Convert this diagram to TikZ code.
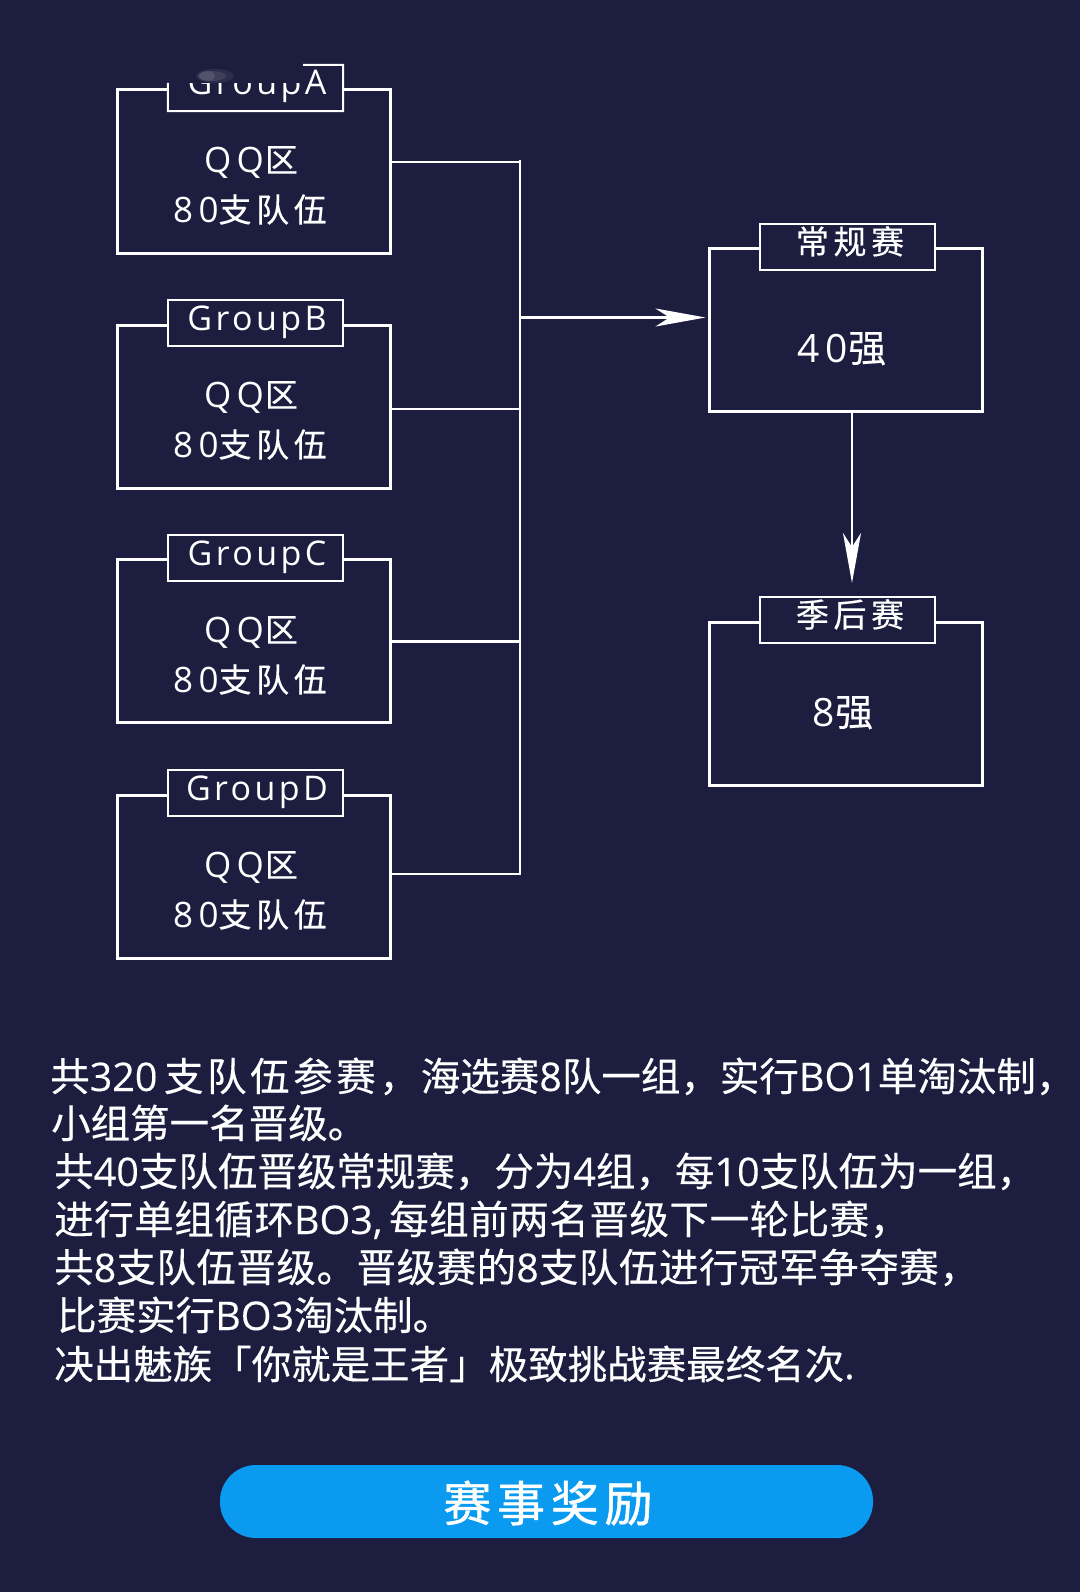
\documentclass[tikz,border=0pt]{standalone}
\usepackage{fontspec}
\usetikzlibrary{arrows.meta,calc}
\setmainfont[FakeBold=0.35]{Noto Sans CJK SC}
\newfontfamily\cnbox[LetterSpace=8,FakeBold=0.3]{Noto Sans CJK SC}
\newfontfamily\cnb[LetterSpace=14,FakeBold=0.3]{Noto Sans CJK SC}
\newfontfamily\cnwide[LetterSpace=9,FakeBold=0.35]{Noto Sans CJK SC}
\newfontfamily\cnfit[LetterSpace=1.4,FakeBold=0.35]{Noto Sans CJK SC}
\newfontfamily\cnbtn[LetterSpace=12,FakeBold=1]{Noto Sans CJK SC}
\newfontfamily\latbox[LetterSpace=15]{Open Sans}
\newfontfamily\lat[FakeBold=0.2]{Open Sans}
\definecolor{bgc}{HTML}{1C1D3F}
\definecolor{btnc}{HTML}{0A9BF0}
\newcommand{\numsize}{\fontsize{35}{35}\selectfont}
\newcommand{\bignum}{\fontsize{39}{39}\selectfont}
\newcommand{\bigcn}{\fontsize{38}{38}\selectfont}
\tikzset{
  x=1pt,y=-1pt,
  framebox/.style={draw=white,line width=3pt,fill=none,minimum width=273pt,minimum height=163pt,inner sep=0pt},
  tabbox/.style={draw=white,line width=2pt,fill=bgc,minimum width=175pt,minimum height=46pt,inner sep=0pt},
  wire/.style={draw=white,line width=2.8pt},
  tip/.style={wire,-{Stealth[length=50pt,width=18pt,inset=14pt]}},
  boxtext/.style={text=white,font=\fontsize{33}{33}\selectfont,anchor=base,inner sep=0pt},
  tabtext/.style={text=white,font=\fontsize{34}{34}\selectfont,anchor=base,inner sep=0pt},
  para/.style={text=white,font=\fontsize{39.5}{40}\selectfont,anchor=base west,inner sep=0pt},
}
\newcommand{\grp}[1]{{\fontspec[LetterSpace=10]{Open Sans}#1}}
\begin{document}
\begin{tikzpicture}
\useasboundingbox[fill=bgc] (0,0) rectangle (1080,1592);
% left frames
\node[framebox] (boxA) at (253.5,171.5) {};
\node[framebox] (boxB) at (253.5,406.5) {};
\node[framebox] (boxC) at (253.5,641) {};
\node[framebox] (boxD) at (253.5,876.5) {};
% group A tab, its top cut away
\node[minimum width=175pt,minimum height=46pt,fill=bgc,inner sep=0pt] (tabA) at (255.5,88) {};
\node[tabtext] (tA) at (257,95) {\grp{GroupA}};
\fill[bgc] (160,55) rectangle (303,83);
\fill[white,opacity=.07] (215,76) ellipse (19 and 7);
\fill[white,opacity=.09] (212,76) ellipse (14 and 5);
\fill[white,opacity=.1] (207,76) ellipse (8 and 5);
\draw[white,line width=2pt] (tabA.west |- 0,83) -- (tabA.south west) -- (tabA.south east) -- (tabA.north east) -- (303,65);
% other tabs
\node[tabbox] (tabB) at (255.5,323) {};
\node[tabbox] (tabC) at (255.5,558) {};
\node[tabbox] (tabD) at (255.5,793) {};
\node[tabtext] (tB) at (257,330) {\grp{GroupB}};
\node[tabtext] (tC) at (257,565) {\grp{GroupC}};
\node[tabtext] (tD) at (257,800) {\grp{GroupD}};
% left texts
\foreach \n/\y in {A/172,B/407,C/642,D/877}{
  \node[boxtext] (q\n) at (251,\y) {{\numsize\latbox QQ}\hspace{1pt}{\cnbox 区}};
  \pgfmathsetmacro{\yy}{\y+50}
  \node[boxtext] (s\n) at (250,\yy) {{\numsize\latbox 80}{\cnb 支队伍}};
}
% right frames
\node[framebox] (boxR) at (845.5,329.5) {};
\node[tabbox] (tabR) at (847,246.5) {};
\node[tabtext] (tR) at (850,254) {\fontsize{33}{33}\selectfont\cnb 常规赛};
\node[boxtext] (nR) at (842,362) {{\bignum\latbox 40}{\bigcn\cnbox 强}};
\node[framebox] (boxP) at (845.5,703.5) {};
\node[tabbox] (tabP) at (847,620) {};
\node[tabtext] (tP) at (850,627) {\fontsize{33}{33}\selectfont\cnb 季后赛};
\node[boxtext] (nP) at (843,726) {{\bignum\latbox 8}{\bigcn\cnbox 强}};
% connectors
\coordinate (busA) at (520,162);
\coordinate (busM) at (520,317.5);
\coordinate (busB) at (520,409);
\coordinate (busC) at (520,641.5);
\coordinate (busD) at (520,874);
\coordinate (arrP) at (852,583);
\draw[wire] (boxA.east |- busA) -- (busA);
\draw[wire] (boxB.east |- busB) -- (busB);
\draw[wire] (boxC.east |- busC) -- (busC);
\draw[wire] (boxD.east |- busD) -- (busD);
\draw[wire] ($(busA)+(0,-2)$) -- ($(busD)+(0,1.4)$);
\draw[tip] (busM) -- ($(boxR.west |- busM)+(-2,0)$);
\draw[tip] (arrP |- boxR.south) -- (arrP);
% paragraph
\node[para] (l1) at (50,1091) {\cnwide 共{\lat 320}\,支队伍参赛，\hspace{2pt}\normalfont 海选赛{\lat 8}队一组，实行{\lat BO1}单淘汰制，};
\node[para] (l2) at (51,1138) {小组第一名晋级。};
\node[para] (l3) at (54,1186) {共{\lat 40}支队伍晋级常规赛，分为{\lat 4}组，每{\lat 10}支队伍为一组，};
\node[para] (l4) at (54,1234) {\cnfit 进行单组循环{\lat BO3,}\,每组前两名晋级下一轮比赛，};
\node[para] (l5) at (54,1282) {\cnfit 共{\lat 8}支队伍晋级。晋级赛的{\lat 8}支队伍进行冠军争夺赛，};
\node[para] (l6) at (57,1330) {比赛实行{\lat BO3}淘汰制。};
\node[para] (l7) at (54,1379) {决出魅族「你就是王者」极致挑战赛最终名次{\lat .}};
% button
\node[fill=btnc,rounded corners=36pt,minimum width=653pt,minimum height=73pt,inner sep=0pt] (btn) at (546.5,1501.5) {};
\node[text=white,font=\fontsize{48}{48}\selectfont\cnbtn,inner sep=0pt] (btnT) at (548,1503) {赛事奖励};
\end{tikzpicture}
\end{document}
